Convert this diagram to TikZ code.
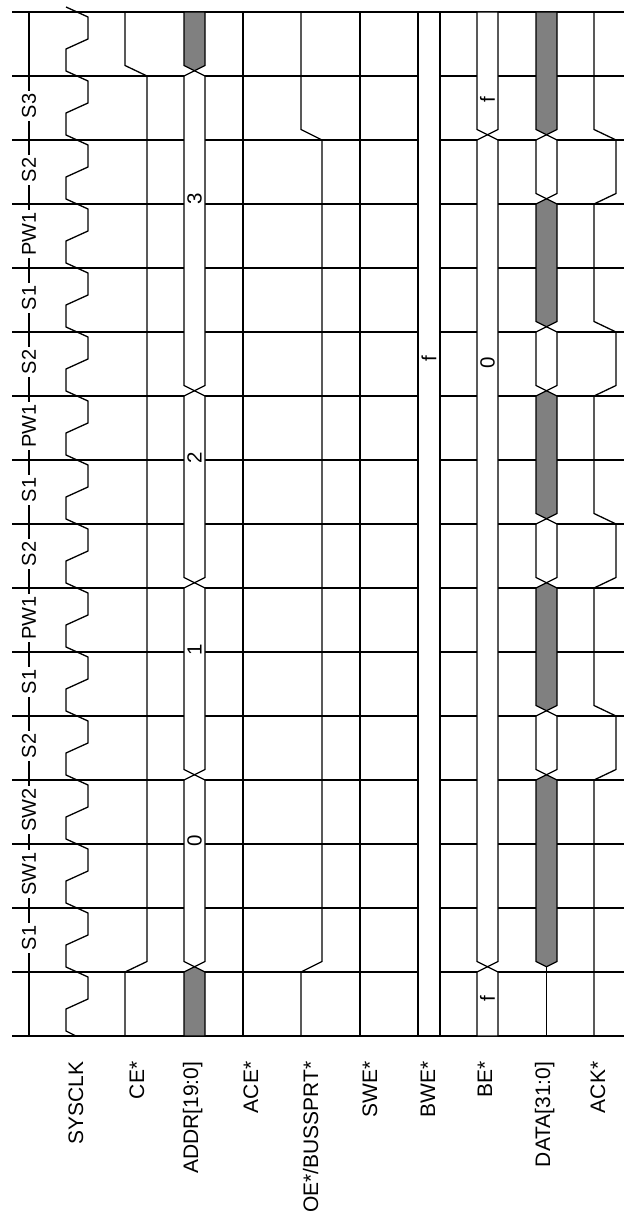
\documentclass[tikz,border=0pt]{standalone}
\usepackage{fontspec}
\setmainfont{Liberation Sans}
\definecolor{tdgrey}{RGB}{128,128,128}
\newcommand{\tdseg}[5]{%
  \pgfmathsetmacro{\tdc}{(#1+#2)/2}%
  \pgfmathsetmacro{\tdpa}{#3-5.25}%
  \pgfmathsetmacro{\tdsa}{#3-10.5}%
  \pgfmathsetmacro{\tdpb}{#4-5.25}%
  \draw[#5] (\tdc,\tdpa) -- (#1,\tdsa) -- (#1,#4) -- (\tdc,\tdpb) -- (#2,#4) -- (#2,\tdsa) -- cycle;}
\newcommand{\tdsegB}[4]{%
  \pgfmathsetmacro{\tdc}{(#1+#2)/2}%
  \pgfmathsetmacro{\tdpb}{#3-5.25}%
  \draw[#4] (#1,1036) -- (#1,#3) -- (\tdc,\tdpb) -- (#2,#3) -- (#2,1036) -- cycle;}
\newcommand{\tdsegT}[4]{%
  \pgfmathsetmacro{\tdc}{(#1+#2)/2}%
  \pgfmathsetmacro{\tdpa}{#3-5.25}%
  \pgfmathsetmacro{\tdsa}{#3-10.5}%
  \draw[#4] (\tdc,\tdpa) -- (#1,\tdsa) -- (#1,12) -- (#2,12) -- (#2,\tdsa) -- cycle;}
\begin{document}
\begin{tikzpicture}[x=1pt,y=-1pt,line width=1.3pt]
\tikzset{
  gridline/.style={line width=1.3pt},
  wbus/.style={draw=black,fill=white},
  gbus/.style={draw=black,fill=tdgrey},
  siglabel/.style={rotate=90,anchor=base east,inner sep=0pt,font=\fontsize{21}{25}\selectfont},
  statelabel/.style={rotate=90,fill=white,inner sep=2.5pt,font=\fontsize{20}{24}\selectfont},
  buslabel/.style={rotate=90,inner sep=0pt,font=\fontsize{20.5}{24}\selectfont},
}
\useasboundingbox (0,0) rectangle (624,1223);
% grid
\foreach \k in {0,...,16}
  \draw[gridline] (12,{1036-64*\k}) -- (624,{1036-64*\k});
\draw[gridline] (29,12) -- (29,1036);
% state labels
\foreach \n/\lab in {1/S1,2/SW1,3/SW2,4/S2,5/S1,6/PW1,7/S2,8/S1,9/PW1,10/S2,11/S1,12/PW1,13/S2,14/S3}
  \node[statelabel] (st\n) at (29,{1036-64*\n-34}) {\lab};
% SYSCLK
\draw (76,1036) -- (66,1031)
  foreach \k in {0,...,15} { -- (66,{1009-64*\k}) -- (88,{999-64*\k}) -- (88,{977-64*\k}) -- (66,{967-64*\k}) };
% CE*
\draw (125,1036) -- (125,972) -- (147,961.5) -- (147,76) -- (125,65.5) -- (125,12);
% ADDR
\tdsegB{184}{205}{972}{gbus}
\tdseg{184}{205}{972}{780}{wbus}
\tdseg{184}{205}{780}{588}{wbus}
\tdseg{184}{205}{588}{396}{wbus}
\tdseg{184}{205}{396}{76}{wbus}
\tdsegT{184}{205}{76}{gbus}
% ACE*
\draw (243,1036) -- (243,12);
% OE*
\draw (301,1036) -- (301,972) -- (322,961.5) -- (322,140) -- (301,129.5) -- (301,12);
% SWE*
\draw (360,1036) -- (360,12);
% BWE*
\draw[wbus] (418,12) rectangle (440,1036);
% BE*
\tdsegB{477}{498}{972}{wbus}
\tdseg{477}{498}{972}{140}{wbus}
\tdsegT{477}{498}{140}{wbus}
% DATA
\draw (546.5,1036) -- (546.5,966.75);
\tdseg{536}{557}{972}{780}{gbus}
\tdseg{536}{557}{780}{716}{wbus}
\tdseg{536}{557}{716}{588}{gbus}
\tdseg{536}{557}{588}{524}{wbus}
\tdseg{536}{557}{524}{396}{gbus}
\tdseg{536}{557}{396}{332}{wbus}
\tdseg{536}{557}{332}{204}{gbus}
\tdseg{536}{557}{204}{140}{wbus}
\tdsegT{536}{557}{140}{gbus}
% ACK*
\draw (594,1036) -- (594,780) -- (616,769.5) -- (616,716) -- (594,705.5)
  -- (594,588) -- (616,577.5) -- (616,524) -- (594,513.5)
  -- (594,396) -- (616,385.5) -- (616,332) -- (594,321.5)
  -- (594,204) -- (616,193.5) -- (616,140) -- (594,129.5) -- (594,12);
% bus value labels
\node[buslabel] (a0) at (194.5,841) {0};
\node[buslabel] (a1) at (194.5,650) {1};
\node[buslabel] (a2) at (194.5,458) {2};
\node[buslabel] (a3) at (194.5,199) {3};
\node[buslabel] (bw) at (429,359) {f};
\node[buslabel] (be0) at (487.5,999) {f};
\node[buslabel] (be1) at (487.5,363) {0};
\node[buslabel] (be2) at (487.5,100) {f};
% signal names
\node[siglabel] (l1) at (83,1061) {SYSCLK};
\node[siglabel] (l2) at (144,1061) {CE*};
\node[siglabel] (l3) at (198,1061) {ADDR[19:0]};
\node[siglabel] (l4) at (258,1061) {ACE*};
\node[siglabel] (l5) at (318,1061) {OE*/BUSSPRT*};
\node[siglabel] (l6) at (377,1061) {SWE*};
\node[siglabel] (l7) at (435,1061) {BWE*};
\node[siglabel] (l8) at (492,1061) {BE*};
\node[siglabel] (l9) at (550,1061) {DATA[31:0]};
\node[siglabel] (l10) at (605,1061) {ACK*};
\end{tikzpicture}
\end{document}
